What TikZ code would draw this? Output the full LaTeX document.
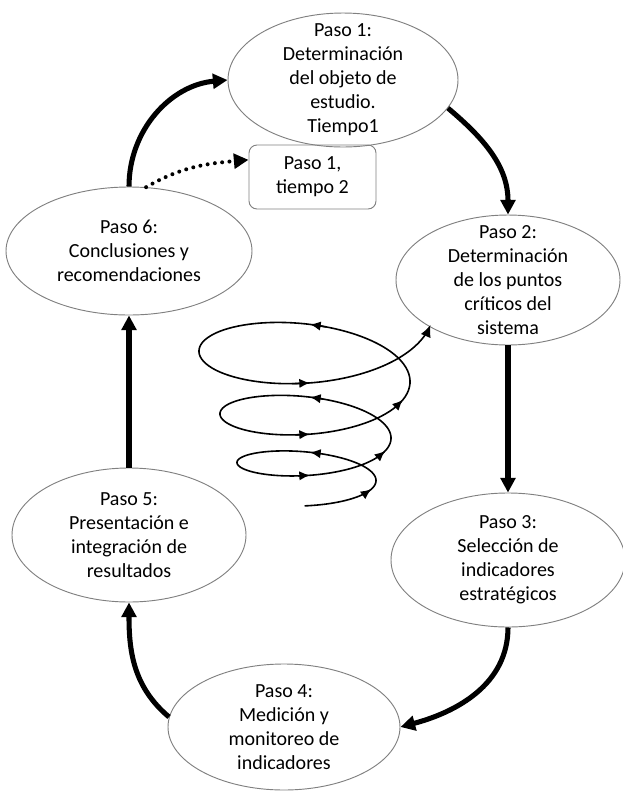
\documentclass[tikz,border=0pt]{standalone}
\usepackage{fontspec}
\setmainfont{Carlito}
\usetikzlibrary{arrows.meta,positioning,shapes.geometric}

% espiral: radio, altura y achatamiento segun el angulo
\newcommand{\espu}[1]{((#1-360)/360)}
\newcommand{\espr}[1]{(73+15*\espu{#1}+2*\espu{#1}*\espu{#1})}
\newcommand{\esph}[1]{(462-42*\espu{#1}-7*\espu{#1}*\espu{#1})}
\newcommand{\espe}[1]{(0.3+0.06*\espu{#1})}
\newcommand{\espx}[1]{310-\espr{#1}*cos(#1)}
\newcommand{\espy}[1]{-\esph{#1}-\espe{#1}*\espr{#1}*sin(#1)}

\begin{document}
\begin{tikzpicture}[x=0.75pt, y=0.75pt,
    paso/.style={ellipse, draw=gray, line width=0.7pt, inner sep=0pt},
    texto/.style={align=center, font=\fontsize{15}{18}\selectfont},
    flecha/.style={line width=3.8pt, -{Triangle[length=11pt,width=11pt]}},
    punteada/.style={line width=3pt, line cap=round, dash pattern=on 0pt off 5.5pt,
        -{Triangle[length=11pt,width=11pt]}},
    espiral/.style={line width=1.2pt, -{Latex[length=9pt,width=8pt]}}
    ]
    \useasboundingbox (0,0) rectangle (623,-794);

    % Pasos del ciclo
    \node[paso, minimum width=172.5pt, minimum height=100.5pt] (p1) at (343,-80) {};
    \node[texto] (t1) at (p1) {Paso 1:\\Determinación\\del objeto de\\estudio.\\Tiempo1};
    \node[paso, minimum width=168pt, minimum height=97.5pt] (p2) at (508,-280) {};
    \node[texto] (t2) at (p2) {Paso 2:\\Determinación\\de los puntos\\críticos del\\sistema};
    \node[paso, minimum width=175.5pt, minimum height=100.5pt] (p3) at (508,-560) {};
    \node[texto] (t3) at (p3) {Paso 3:\\Selección de\\indicadores\\estratégicos};
    \node[paso, minimum width=174pt, minimum height=94.5pt] (p4) at (284,-727) {};
    \node[texto] (t4) at (p4) {Paso 4:\\Medición y\\monitoreo de\\indicadores};
    \node[paso, minimum width=175.5pt, minimum height=100.5pt] (p5) at (129,-535) {};
    \node[texto] (t5) at (p5) {Paso 5:\\Presentación e\\integración de\\resultados};
    \node[paso, minimum width=184.5pt, minimum height=96pt] (p6) at (129,-251) {};
    \node[texto] (t6) at (p6) {Paso 6:\\Conclusiones y\\recomendaciones};

    % Caja del tiempo 2
    \node[texto, draw=gray, line width=0.7pt, rounded corners=6pt,
        minimum width=95.25pt, minimum height=48pt] (caja) at (312.5,-177) {Paso 1,\\tiempo 2};

    % Flechas del ciclo
    \draw[flecha] (p6.north) to[out=90, in=185] (p1.west);
    \draw[flecha] (p1.-15) to[out=-40, in=90] (p2.north);
    \draw[flecha] (p2.south) -- (p3.north);
    \draw[flecha] (p3.south) to[out=-90, in=15] (p4.east);
    \draw[flecha] (p4.175) to[out=140, in=-90] (p5.south);
    \draw[flecha] (p5.north) -- (p6.south);
    \draw[punteada] (p6.75) to[out=30, in=185] (caja.165);

    % Espiral central
    \draw[espiral] plot[domain=85:1250, samples=300, smooth]
        ({\espx{\x}}, {\espy{\x}});
    \foreach \f in {160,270,450,520,630,810,880,990,1170}
        \draw[line width=1.2pt, -{Latex[length=8pt,width=7pt]}]
            ({\espx{\f-9}}, {\espy{\f-9}}) -- ({\espx{\f}}, {\espy{\f}});
\end{tikzpicture}
\end{document}
